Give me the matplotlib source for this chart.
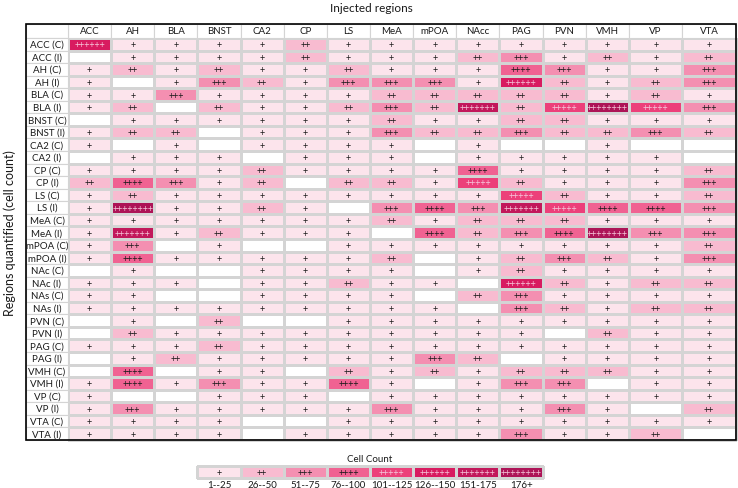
import numpy as np
import matplotlib.pyplot as plt
from matplotlib.colors import ListedColormap
from matplotlib.patches import Rectangle

plt.rcParams['font.family'] = ['Lato', 'DejaVu Sans']

# Injected regions (columns)
injected = ['ACC', 'AH', 'BLA', 'BNST', 'CA2', 'CP', 'LS', 'MeA', 'mPOA',
            'NAcc', 'PAG', 'PVN', 'VMH', 'VP', 'VTA']

# Quantified regions (rows)
quantified = ['ACC (C)', 'ACC (I)', 'AH (C)', 'AH (I)', 'BLA (C)', 'BLA (I)',
              'BNST (C)', 'BNST (I)', 'CA2 (C)', 'CA2 (I)', 'CP (C)', 'CP (I)',
              'LS (C)', 'LS (I)', 'MeA (C)', 'MeA (I)', 'mPOA (C)', 'mPOA (I)',
              'NAc (C)', 'NAc (I)', 'NAs (C)', 'NAs (I)', 'PVN (C)', 'PVN (I)',
              'PAG (C)', 'PAG (I)', 'VMH (C)', 'VMH (I)', 'VP (C)', 'VP (I)',
              'VTA (C)', 'VTA (I)']

# number of "+" per cell (0 = no cells)
levels = np.array([
    [6, 1, 1, 1, 1, 2, 1, 1, 1, 1, 1, 1, 1, 1, 1],
    [0, 1, 1, 1, 1, 2, 1, 1, 1, 2, 3, 1, 2, 1, 2],
    [1, 2, 1, 2, 1, 1, 2, 1, 1, 1, 4, 3, 1, 1, 3],
    [1, 0, 1, 3, 2, 1, 3, 3, 3, 1, 6, 2, 1, 2, 3],
    [1, 1, 3, 1, 1, 1, 1, 2, 2, 2, 2, 2, 1, 2, 1],
    [1, 2, 0, 2, 1, 1, 2, 3, 2, 7, 2, 5, 8, 5, 3],
    [0, 1, 1, 1, 1, 1, 1, 2, 1, 1, 2, 2, 1, 1, 1],
    [1, 2, 2, 0, 1, 1, 1, 3, 2, 2, 3, 2, 2, 3, 2],
    [1, 0, 1, 0, 1, 1, 1, 1, 0, 1, 0, 0, 1, 0, 0],
    [0, 1, 1, 1, 0, 1, 1, 1, 0, 1, 1, 1, 1, 1, 0],
    [1, 1, 1, 1, 2, 1, 1, 1, 1, 4, 1, 1, 1, 1, 2],
    [2, 4, 3, 1, 2, 0, 2, 2, 1, 5, 2, 1, 1, 1, 3],
    [1, 2, 1, 1, 1, 1, 1, 1, 1, 1, 5, 2, 1, 1, 2],
    [1, 8, 1, 1, 2, 1, 0, 3, 4, 3, 7, 5, 4, 4, 3],
    [1, 1, 1, 1, 1, 1, 1, 2, 1, 2, 2, 2, 1, 1, 1],
    [1, 7, 1, 2, 1, 1, 1, 0, 4, 2, 3, 4, 8, 3, 3],
    [1, 3, 0, 1, 0, 0, 1, 1, 1, 1, 1, 1, 1, 1, 2],
    [1, 4, 1, 1, 1, 1, 1, 2, 0, 1, 2, 3, 2, 1, 3],
    [0, 1, 0, 0, 1, 1, 1, 1, 0, 1, 2, 1, 1, 1, 1],
    [1, 1, 1, 0, 1, 1, 2, 1, 1, 0, 6, 2, 1, 2, 2],
    [1, 1, 0, 0, 1, 1, 1, 1, 0, 2, 3, 1, 1, 1, 1],
    [1, 1, 1, 1, 1, 1, 1, 1, 1, 0, 3, 2, 1, 2, 2],
    [0, 1, 0, 2, 0, 0, 1, 1, 1, 1, 1, 1, 1, 1, 1],
    [0, 2, 1, 1, 1, 1, 1, 1, 1, 1, 1, 0, 2, 1, 1],
    [1, 1, 1, 2, 1, 1, 1, 1, 1, 1, 1, 1, 1, 1, 1],
    [0, 1, 2, 1, 1, 1, 1, 1, 3, 2, 0, 1, 1, 1, 1],
    [0, 4, 0, 1, 1, 0, 2, 1, 2, 1, 2, 2, 2, 1, 1],
    [1, 4, 1, 3, 1, 1, 4, 1, 0, 1, 3, 3, 0, 1, 1],
    [1, 0, 0, 1, 1, 1, 0, 1, 1, 1, 1, 1, 1, 1, 1],
    [1, 3, 1, 1, 1, 1, 1, 3, 1, 1, 1, 3, 1, 0, 2],
    [1, 1, 1, 1, 0, 0, 1, 1, 1, 1, 1, 1, 1, 1, 1],
    [1, 1, 1, 1, 0, 1, 1, 1, 1, 1, 3, 1, 1, 2, 0],
])

legend_levels = [1, 2, 3, 4, 5, 6, 7, 8]
legend_labels = ['1--25', '26--50', '51--75', '76--100', '101--125',
                 '126--150', '151-175', '176+']

colors = ['#ffffff', '#fce4ec', '#f8bbd0', '#f48fb1', '#f06292',
          '#ec407a', '#d81b60', '#c2185b', '#ad1457']
cmap = ListedColormap(colors)
grid_c = '#d4d4d4'
txt_c = '#1a1a1a'
light_txt = '#f6c6da'

# layout in pixel units
W, H = 738, 489
frame_x0, frame_y0 = 26, 25
col_w = [43.15] * 13 + [53.5, 53.5]
x_edges = 68 + np.concatenate([[0], np.cumsum(col_w)])
header_h = 14
row_h = 12.56
y_edges = frame_y0 + header_h + row_h * np.arange(len(quantified) + 1)

fig = plt.figure(figsize=(W / 100, H / 100), dpi=100)
ax = fig.add_axes([0, 0, 1, 1])
ax.set_xlim(0, W)
ax.set_ylim(H, 0)
ax.axis('off')

# heat cells
ax.pcolormesh(x_edges, y_edges, levels, cmap=cmap, vmin=-0.5, vmax=8.5,
              edgecolors=grid_c, linewidth=0.8)

# header row and label column
for j, name in enumerate(injected):
    ax.add_patch(Rectangle((x_edges[j], frame_y0), x_edges[j + 1] - x_edges[j], header_h,
                           facecolor='white', edgecolor=grid_c, lw=0.8))
    ax.text((x_edges[j] + x_edges[j + 1]) / 2, frame_y0 + header_h / 2, name,
            ha='center', va='center', fontsize=7, color=txt_c)
ax.add_patch(Rectangle((frame_x0, frame_y0), x_edges[0] - frame_x0, header_h,
                       facecolor='white', edgecolor=grid_c, lw=0.8))
for i, name in enumerate(quantified):
    ax.add_patch(Rectangle((frame_x0, y_edges[i]), x_edges[0] - frame_x0, row_h,
                           facecolor='white', edgecolor=grid_c, lw=0.8))
    ax.text((frame_x0 + x_edges[0]) / 2, (y_edges[i] + y_edges[i + 1]) / 2, name,
            ha='center', va='center', fontsize=7, color=txt_c)

# plus signs
for i in range(levels.shape[0]):
    for j in range(levels.shape[1]):
        n = levels[i, j]
        if n == 0:
            continue
        tc = txt_c if n <= 4 else light_txt
        ax.text((x_edges[j] + x_edges[j + 1]) / 2, (y_edges[i] + y_edges[i + 1]) / 2 + 0.5,
                '+' * n, ha='center', va='center', fontsize=6.5, color=tc)

# outer frame
ax.add_patch(Rectangle((frame_x0, frame_y0), x_edges[-1] - frame_x0, y_edges[-1] - frame_y0,
                       facecolor='none', edgecolor='black', lw=1.2))

ax.text(371, 8, 'Injected regions', ha='center', va='center',
        fontsize=8.5, color=txt_c)
ax.text(10, (frame_y0 + y_edges[-1]) / 2, 'Regions quantified (cell count)', ha='center',
        va='center', rotation=90, fontsize=9, color=txt_c)

# legend
lx = x_edges[3:12]
ly = np.array([467, 478.5])
ax.pcolormesh(lx, ly, np.array([legend_levels]), cmap=cmap, vmin=-0.5, vmax=8.5,
              edgecolors=grid_c, linewidth=0.8)
for k, n in enumerate(legend_levels):
    cx = (lx[k] + lx[k + 1]) / 2
    tc = txt_c if n <= 4 else light_txt
    ax.text(cx, ly.mean() + 0.5, '+' * n, ha='center', va='center', fontsize=6.5, color=tc)
    ax.text(cx, 485, legend_labels[k], ha='center', va='center', fontsize=7, color=txt_c)
ax.text((lx[0] + lx[-1]) / 2, 460, 'Cell Count', ha='center', va='center',
        fontsize=7, color=txt_c)

fig.savefig('out.png', dpi=100)
